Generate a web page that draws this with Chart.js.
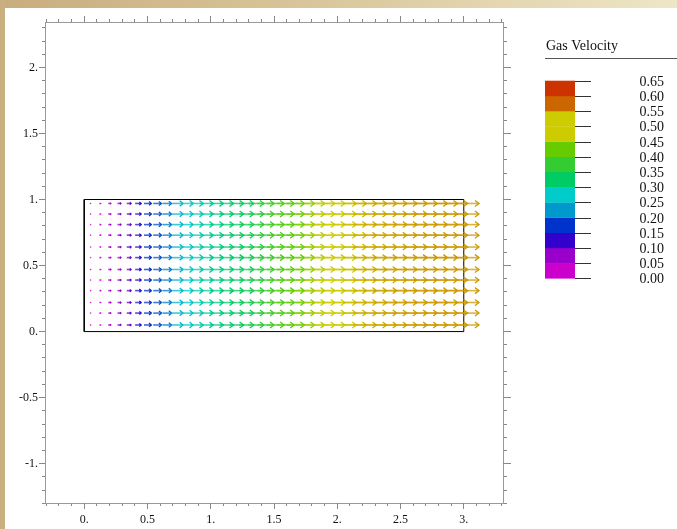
<!DOCTYPE html>
<html>
<head>
<meta charset="utf-8">
<script src="https://cdn.jsdelivr.net/npm/chart.js@4.4.1/dist/chart.umd.min.js"></script>
<style>
  html, body { margin: 0; padding: 0; background: #fff; }
  #frame { position: relative; width: 677px; height: 529px; overflow: hidden; background: #fff; }
  #topband { position: absolute; left: 0; top: 0; width: 677px; height: 8px;
             background: linear-gradient(to right, #C8AD7E 0%, #D8C599 45%, #EEE6C6 100%); }
  #leftband { position: absolute; left: 0; top: 0; width: 5px; height: 529px; background: #CAB07F; }
  #chart { position: absolute; left: 0; top: 0; }
</style>
</head>
<body>
<div id="frame">
  <div id="topband"></div>
  <div id="leftband"></div>
  <canvas id="chart" width="677" height="529"></canvas>
</div>
<script>
// Sample grid: x positions along the channel, y positions across it
const columnX = [0.05, 0.13, 0.21, 0.29, 0.37, 0.45, 0.53, 0.61, 0.69, 0.78,
                 0.86, 0.94, 1.02, 1.10, 1.18, 1.26, 1.34, 1.42, 1.50, 1.58,
                 1.66, 1.74, 1.82, 1.90, 1.98, 2.06, 2.15, 2.23, 2.31, 2.39,
                 2.47, 2.55, 2.63, 2.71, 2.79, 2.87, 2.95, 3.03, 3.12];
const rowY = [0.05, 0.14, 0.22, 0.31, 0.39, 0.47, 0.56, 0.64, 0.73, 0.81, 0.89, 0.97];

// Axial gas velocity at each column (identical on every row)
const gasVelocity = [0.015, 0.03, 0.06, 0.08, 0.10, 0.14, 0.17, 0.19, 0.21, 0.25,
                     0.27, 0.29, 0.30, 0.31, 0.32, 0.33, 0.34, 0.36, 0.38, 0.40,
                     0.41, 0.42, 0.44, 0.46, 0.48, 0.50, 0.52, 0.535, 0.54, 0.54,
                     0.545, 0.545, 0.545, 0.55, 0.55, 0.55, 0.55, 0.55, 0.55];

// Channel outline
const channelX = [0, 3, 3, 0, 0];
const channelY = [0, 0, 1, 1, 0];

// Axis ticks
const xTickValues = [0, 0.5, 1, 1.5, 2, 2.5, 3];
const xTickLabels = ['0.', '0.5', '1.', '1.5', '2.', '2.5', '3.'];
const yTickValues = [-1, -0.5, 0, 0.5, 1, 1.5, 2];
const yTickLabels = ['-1.', '-0.5', '0.', '0.5', '1.', '1.5', '2.'];

// Colour key
const legendTitle = 'Gas Velocity';
const legendLevels = [0.00, 0.05, 0.10, 0.15, 0.20, 0.25, 0.30, 0.35, 0.40, 0.45, 0.50, 0.55, 0.60, 0.65];
const legendLabels = ['0.00', '0.05', '0.10', '0.15', '0.20', '0.25', '0.30', '0.35', '0.40', '0.45', '0.50', '0.55', '0.60', '0.65'];
const legendColors = ['#CC00CC', '#9900CC', '#3300CC', '#0033CC', '#0099CC', '#00CCCC',
                      '#00CC66', '#33CC33', '#66CC00', '#CCCC00', '#CCCC00', '#CC6600', '#CC3300'];

const X_RANGE = [-0.31, 3.31];
const Y_RANGE = [-1.298, 2.344];
const ARROW_SCALE = 0.34;   // arrow length in x-units per unit velocity
const SERIF = '"Liberation Serif", "Times New Roman", serif';

function hexToRgb(h) {
  const n = parseInt(h.slice(1), 16);
  return [(n >> 16) & 255, (n >> 8) & 255, n & 255];
}

// Continuous colour for a velocity, blended between the key's band colours
function velocityColor(v, alpha) {
  const mids = legendColors.map((c, i) => (legendLevels[i] + legendLevels[i + 1]) / 2);
  let c;
  if (v <= mids[0]) c = hexToRgb(legendColors[0]);
  else if (v >= mids[mids.length - 1]) c = hexToRgb(legendColors[legendColors.length - 1]);
  else {
    let i = 0;
    while (v > mids[i + 1]) i++;
    const t = (v - mids[i]) / (mids[i + 1] - mids[i]);
    const a = hexToRgb(legendColors[i]), b = hexToRgb(legendColors[i + 1]);
    c = a.map((ch, k) => Math.round(ch + (b[k] - ch) * t));
  }
  return `rgba(${c[0]},${c[1]},${c[2]},${alpha})`;
}

function minorTicks(lo, hi) {
  const out = [];
  for (let i = Math.round(lo * 10); i <= Math.round(hi * 10); i++) out.push({ value: i / 10 });
  return out;
}

function labelFor(value, values, labels) {
  const k = values.findIndex(v => Math.abs(v - value) < 1e-6);
  return k >= 0 ? labels[k] : '';
}

const alignPx = p => Math.round(p - 0.5) + 0.5;

// Arrow field drawn through the chart's x/y scales
const quiverPlugin = {
  id: 'quiver',
  afterDatasetsDraw(chart) {
    const { ctx, scales: { x, y } } = chart;
    ctx.save();
    ctx.lineCap = 'butt';
    ctx.lineJoin = 'miter';
    rowY.forEach(ry => {
      const py = y.getPixelForValue(ry);
      columnX.forEach((cx, c) => {
        const v = gasVelocity[c];
        const tip = x.getPixelForValue(cx);
        const tail = x.getPixelForValue(cx - ARROW_SCALE * v);
        const len = tip - tail;
        const hl = Math.min(4, 0.3 * len);
        const hw = Math.min(3, hl * 0.85);
        // shaft
        ctx.strokeStyle = velocityColor(v, 0.75);
        ctx.lineWidth = 1.6;
        ctx.beginPath();
        ctx.moveTo(tail, py);
        ctx.lineTo(tip, py);
        ctx.stroke();
        // head
        ctx.strokeStyle = velocityColor(v, 1);
        ctx.lineWidth = 1.3;
        ctx.beginPath();
        ctx.moveTo(tip - hl, py - hw);
        ctx.lineTo(tip, py);
        ctx.lineTo(tip - hl, py + hw);
        ctx.stroke();
      });
    });
    ctx.restore();
  }
};

// Longer tick marks at the labelled values on all four sides
const majorTickPlugin = {
  id: 'majorTicks',
  afterDraw(chart) {
    const { ctx, chartArea: a, scales } = chart;
    ctx.save();
    ctx.strokeStyle = '#888';
    ctx.lineWidth = 1;
    ctx.beginPath();
    xTickValues.forEach(v => {
      const px = alignPx(scales.x.getPixelForValue(v));
      ctx.moveTo(px, a.bottom); ctx.lineTo(px, a.bottom + 6);
      ctx.moveTo(px, a.top); ctx.lineTo(px, a.top - 6);
    });
    yTickValues.forEach(v => {
      const py = alignPx(scales.y.getPixelForValue(v));
      ctx.moveTo(a.left, py); ctx.lineTo(a.left - 6, py);
      ctx.moveTo(a.right, py); ctx.lineTo(a.right + 8, py);
    });
    ctx.stroke();
    ctx.restore();
  }
};

// Colour key to the right of the plot
const colourKeyPlugin = {
  id: 'colourKey',
  afterDraw(chart) {
    const { ctx } = chart;
    const left = 545, right = 575, tickEnd = 591, labelRight = 664;
    const top = 80.7, band = 15.2;
    const n = legendLevels.length - 1;
    const yOf = k => top + (n - k) * band;
    ctx.save();
    legendColors.forEach((col, i) => {
      ctx.fillStyle = col;
      ctx.fillRect(left, yOf(i + 1), right - left, yOf(i) - yOf(i + 1) + 0.3);
    });
    ctx.strokeStyle = '#333';
    ctx.lineWidth = 1;
    ctx.beginPath();
    legendLevels.forEach((lv, k) => {
      const py = Math.round(yOf(k)) + 0.5;
      ctx.moveTo(right, py); ctx.lineTo(tickEnd, py);
    });
    ctx.stroke();
    ctx.fillStyle = '#111';
    ctx.font = '14px ' + SERIF;
    ctx.textAlign = 'right';
    ctx.textBaseline = 'middle';
    legendLabels.forEach((lab, k) => ctx.fillText(lab, labelRight, yOf(k) + 1.5));
    ctx.textAlign = 'left';
    ctx.fillText(legendTitle, 546, 46);
    ctx.strokeStyle = '#555';
    ctx.beginPath();
    ctx.moveTo(545, 58.5); ctx.lineTo(677, 58.5);
    ctx.stroke();
    ctx.restore();
  }
};

Chart.defaults.font.family = SERIF;

const axisCommon = {
  type: 'linear',
  grid: { drawOnChartArea: false, color: '#888', tickLength: 3 },
  border: { display: true, color: '#999', width: 1 },
};

new Chart(document.getElementById('chart'), {
  type: 'scatter',
  data: {
    datasets: [{
      type: 'line',
      data: channelX.map((vx, i) => ({ x: vx, y: channelY[i] })),
      borderColor: '#000',
      borderWidth: 1,
      pointRadius: 0,
      fill: false,
      tension: 0,
      xAxisID: 'x',
      yAxisID: 'y'
    }]
  },
  options: {
    responsive: false,
    animation: false,
    events: [],
    layout: { padding: 0 },
    plugins: { legend: { display: false }, tooltip: { enabled: false } },
    scales: {
      x: {
        ...axisCommon, position: 'bottom', min: X_RANGE[0], max: X_RANGE[1],
        afterBuildTicks: s => { s.ticks = minorTicks(-0.3, 3.3); },
        afterFit: s => { s.height = 26; },
        ticks: { autoSkip: false, maxRotation: 0, minRotation: 0, padding: 7, color: '#111',
                 font: { size: 12 }, callback: v => labelFor(v, xTickValues, xTickLabels) }
      },
      x2: {
        ...axisCommon, position: 'top', min: X_RANGE[0], max: X_RANGE[1],
        afterBuildTicks: s => { s.ticks = minorTicks(-0.3, 3.3); },
        afterFit: s => { s.height = 22; },
        ticks: { display: false, autoSkip: false, maxRotation: 0 }
      },
      y: {
        ...axisCommon, position: 'left', min: Y_RANGE[0], max: Y_RANGE[1],
        afterBuildTicks: s => { s.ticks = minorTicks(-1.3, 2.3); },
        afterFit: s => { s.width = 45; },
        ticks: { autoSkip: false, padding: 4, color: '#111', font: { size: 12 },
                 callback: v => labelFor(v, yTickValues, yTickLabels) }
      },
      y2: {
        ...axisCommon, position: 'right', min: Y_RANGE[0], max: Y_RANGE[1],
        grid: { drawOnChartArea: false, color: '#888', tickLength: 4 },
        afterBuildTicks: s => { s.ticks = minorTicks(-1.3, 2.3); },
        afterFit: s => { s.width = 174; },
        ticks: { display: false, autoSkip: false }
      }
    }
  },
  plugins: [quiverPlugin, majorTickPlugin, colourKeyPlugin]
});
</script>
</body>
</html>
